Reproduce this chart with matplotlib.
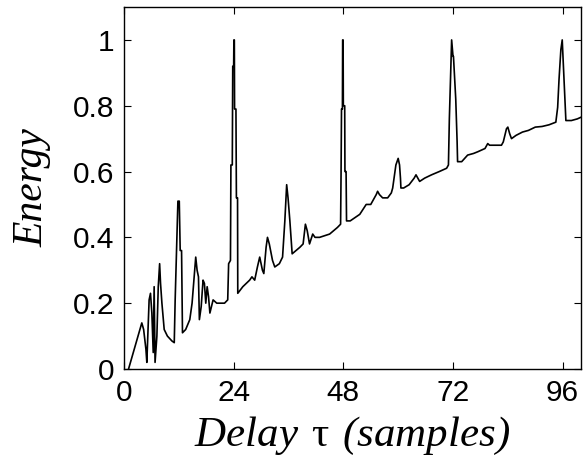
import matplotlib
matplotlib.use("Agg")
from matplotlib import pyplot as plt

# delay (samples) and normalised energy
tau = [1.0, 3.9, 4.3, 4.8, 5.0, 5.5, 5.8, 6.1, 6.4, 6.6, 6.8, 7.2, 7.5, 7.8, 8.0,
       8.3, 8.8, 9.5, 10.5, 11.0, 11.2, 11.5, 11.8, 12.1, 12.3, 12.6, 12.8, 13.5,
       14.4, 14.9, 15.3, 15.7, 16.0, 16.3, 16.5, 16.9, 17.3, 17.6, 17.9, 18.2, 18.5,
       18.8, 19.5, 20.3, 22.0, 22.7, 22.9, 23.3, 23.4, 23.7, 23.8, 24.0, 24.05,
       24.15, 24.2, 24.5, 24.6, 24.85, 24.9, 26.0, 27.5, 28.0, 28.6, 29.2, 29.7,
       30.3, 30.6, 31.1, 31.4, 31.8, 32.5, 33.0, 34.0, 34.7, 35.2, 35.6, 35.9,
       36.3, 36.8, 38.5, 39.2, 39.7, 40.1, 40.6, 41.3, 41.8, 42.8, 45.0, 46.7,
       47.4, 47.5, 47.6, 47.8, 47.85, 47.95, 48.0, 48.3, 48.35, 48.6, 48.7, 49.5,
       51.6, 53.0, 54.0, 55.2, 55.5, 55.9, 56.6, 57.7, 58.5, 58.8, 59.5, 60.0,
       60.3, 60.5, 60.6, 61.2, 62.4, 63.5, 63.9, 64.7, 65.8, 67.3, 69.0, 70.6,
       71.0, 71.2, 71.5, 71.7, 72.0, 72.1, 72.6, 72.9, 73.0, 73.9, 75.2, 76.5,
       77.4, 79.0, 79.6, 80.0, 82.6, 83.0, 83.7, 84.0, 84.4, 84.8, 85.8, 87.2,
       88.5, 90.0, 91.5, 93.0, 94.5, 94.9, 95.2, 95.6, 95.9, 96.1, 96.4, 96.7,
       97.9, 99.2, 100.0]
energy = [0.00, 0.14, 0.12, 0.06, 0.02, 0.21, 0.23, 0.17, 0.05, 0.25, 0.02, 0.10,
          0.25, 0.32, 0.26, 0.20, 0.12, 0.10, 0.085, 0.08, 0.21, 0.36, 0.51, 0.51,
          0.36, 0.36, 0.11, 0.12, 0.15, 0.20, 0.27, 0.34, 0.30, 0.28, 0.15, 0.19,
          0.27, 0.26, 0.20, 0.25, 0.22, 0.17, 0.21, 0.20, 0.20, 0.21, 0.32, 0.33,
          0.62, 0.62, 0.92, 0.92, 1.00, 1.00, 0.79, 0.79, 0.52, 0.52, 0.23, 0.25,
          0.27, 0.28, 0.27, 0.31, 0.34, 0.30, 0.29, 0.37, 0.40, 0.38, 0.33, 0.31,
          0.32, 0.34, 0.45, 0.56, 0.52, 0.45, 0.35, 0.37, 0.38, 0.44, 0.42, 0.38,
          0.41, 0.40, 0.40, 0.41, 0.43, 0.44, 0.59, 0.79, 0.79, 1.00, 1.00, 0.80,
          0.80, 0.60, 0.60, 0.45, 0.45, 0.47, 0.50, 0.50, 0.53, 0.54, 0.53, 0.52,
          0.52, 0.535, 0.55, 0.62, 0.64, 0.62, 0.58, 0.55, 0.55, 0.56, 0.58, 0.59,
          0.57, 0.58, 0.59, 0.60, 0.61, 0.62, 0.76, 0.90, 1.00, 0.95, 0.95, 0.82,
          0.69, 0.63, 0.63, 0.65, 0.655, 0.66, 0.67, 0.685, 0.68, 0.68, 0.69, 0.73,
          0.735, 0.715, 0.70, 0.71, 0.72, 0.725, 0.735, 0.737, 0.742, 0.75, 0.795,
          0.88, 0.97, 1.00, 0.94, 0.85, 0.755, 0.755, 0.76, 0.765]

xticks = [0, 24, 48, 72, 96]
yticks = [0, 0.2, 0.4, 0.6, 0.8, 1]
ytick_labels = ['0', '0.2', '0.4', '0.6', '0.8', '1']

plt.rcParams['font.family'] = ['Liberation Sans', 'DejaVu Sans']
# italic serif for the label, upright serif only for tau
plt.rcParams['mathtext.fontset'] = 'custom'
plt.rcParams['mathtext.rm'] = 'Liberation Serif:italic'
plt.rcParams['mathtext.sf'] = 'Liberation Serif'

fig = plt.figure(figsize=(5.84, 4.61), dpi=100)
ax = fig.add_axes([0.2123, 0.1996, 0.7825, 0.7852])

ax.plot(tau, energy, c='black', lw=1.2)

ax.set_xlim(0, 100)
ax.set_ylim(0, 1.1)
ax.set_xticks(xticks)
ax.set_yticks(yticks)
ax.set_yticklabels(ytick_labels)
ax.tick_params(axis='both', direction='in', length=5, width=0.8,
               top=True, right=True, labelsize=21.5, pad=7)
for sp in ax.spines.values():
    sp.set_linewidth(1.0)

ax.set_xlabel(r'$\mathrm{Delay}\ \mathsf{\tau}\ \mathrm{(samples)}$', fontsize=31, labelpad=6)
ax.set_ylabel('Energy', fontsize=30, family='Liberation Serif', style='italic', labelpad=15)

plt.savefig('out.png', dpi=100)
